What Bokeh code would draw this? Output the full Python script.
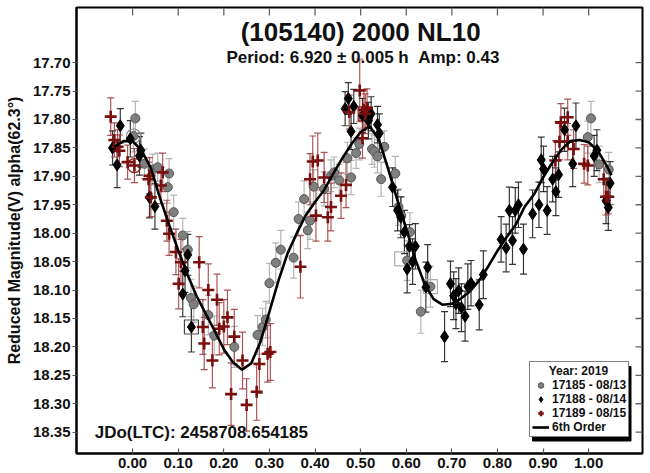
import numpy as np
from bokeh.plotting import figure
from bokeh.models import (Range1d, FixedTicker, Label, Legend, LegendItem,
                          PrintfTickFormatter)
from bokeh.embed import file_html
from bokeh.resources import INLINE

FONT = "Liberation Sans"

# ---------------- data ----------------
x_ticks = [0.0, 0.1, 0.2, 0.3, 0.4, 0.5, 0.6, 0.7, 0.8, 0.9, 1.0]
y_ticks = [17.70, 17.75, 17.80, 17.85, 17.90, 17.95, 18.00, 18.05, 18.10,
           18.15, 18.20, 18.25, 18.30, 18.35]

# 17185 - 08/13 (grey circles)
g_phase = [0.006, 0.002, 0.026, 0.044, 0.055, 0.080, 0.077, 0.090, 0.110, 0.121,
           0.128, 0.134, 0.166, 0.179, 0.223, 0.274, 0.285, 0.292, 0.300, 0.314,
           0.325, 0.353, 0.364, 0.376, 0.389, 0.384, 0.397, 0.420, 0.435, 0.442,
           0.453, 0.479, 0.471, 0.490, 0.497, 0.525, 0.530, 0.537, 0.545, 0.552,
           0.576, 0.583, 0.589, 0.608, 0.602, 0.632, 0.653, 0.998, 1.005, 1.023,
           1.044]
g_mag = [17.798, 17.829, 17.878, 17.888, 17.884, 17.895, 17.919, 17.963, 18.004, 18.029,
         18.114, 18.125, 18.144, 18.180, 18.200, 18.179, 18.165, 18.152, 18.088, 18.052,
         18.029, 18.043, 17.975, 17.940, 17.978, 17.995, 17.918, 17.922, 17.899, 17.893,
         17.907, 17.902, 17.868, 17.859, 17.843, 17.852, 17.856, 17.865, 17.905, 17.848,
         17.895, 17.954, 17.969, 17.998, 18.048, 18.138, 18.094, 17.831, 17.798, 17.879,
         17.888]
g_err = [0.030, 0.028, 0.026, 0.027, 0.025, 0.026, 0.028, 0.030, 0.030, 0.032,
         0.033, 0.032, 0.035, 0.034, 0.036, 0.034, 0.033, 0.032, 0.035, 0.035,
         0.034, 0.036, 0.030, 0.032, 0.033, 0.032, 0.030, 0.030, 0.028, 0.027,
         0.028, 0.030, 0.028, 0.027, 0.028, 0.027, 0.028, 0.029, 0.030, 0.028,
         0.030, 0.032, 0.033, 0.034, 0.035, 0.038, 0.036, 0.028, 0.030, 0.032,
         0.030]

# 17188 - 08/14 (black diamonds)
b_phase = [-0.044, -0.034, -0.027, -0.005, 0.015, 0.018, 0.037, 0.049, 0.110, 0.115,
           0.121, 0.129, 0.466, 0.473, 0.485, 0.479, 0.504, 0.517, 0.523, 0.537,
           0.541, 0.570, 0.581, 0.588, 0.596, 0.607, 0.620, 0.614, 0.602, 0.647,
           0.643, 0.684, 0.697, 0.704, 0.715, 0.709, 0.721, 0.729, 0.735, 0.742,
           0.760, 0.769, 0.808, 0.819, 0.826, 0.833, 0.839, 0.846, 0.857, 0.877,
           0.891, 0.909, 0.896, 0.901, 0.921, 0.928, 0.934, 0.947, 0.972, 0.965,
           1.012, 1.018, 1.043, 1.047, 1.038]
b_mag = [17.850, 17.880, 17.811, 17.834, 17.864, 17.854, 17.937, 17.953, 18.107, 18.066,
         18.038, 18.165, 17.781, 17.763, 17.777, 17.821, 17.793, 17.802, 17.790, 17.809,
         17.824, 17.919, 17.960, 17.972, 17.998, 18.023, 18.023, 18.050, 18.063, 18.060,
         18.095, 18.182, 18.089, 18.110, 18.101, 18.124, 18.131, 18.146, 18.094, 18.088,
         18.126, 18.073, 18.011, 18.026, 17.960, 18.013, 17.960, 17.950, 18.028, 17.966,
         17.950, 17.960, 17.871, 17.887, 17.905, 17.927, 17.897, 17.818, 17.811, 17.878,
         17.864, 17.854, 17.955, 17.912, 17.943]
b_err = [0.030, 0.040, 0.030, 0.032, 0.034, 0.030, 0.036, 0.040, 0.040, 0.038,
         0.036, 0.044, 0.030, 0.028, 0.030, 0.032, 0.030, 0.032, 0.030, 0.032,
         0.034, 0.034, 0.036, 0.036, 0.038, 0.038, 0.040, 0.040, 0.042, 0.040,
         0.044, 0.044, 0.040, 0.042, 0.040, 0.044, 0.042, 0.044, 0.040, 0.040,
         0.044, 0.042, 0.040, 0.042, 0.041, 0.042, 0.040, 0.040, 0.044, 0.042,
         0.040, 0.042, 0.040, 0.040, 0.040, 0.042, 0.040, 0.038, 0.040, 0.040,
         0.036, 0.036, 0.040, 0.038, 0.040]

# 17189 - 08/15 (dark red crosses)
r_phase = [-0.048, -0.040, -0.033, -0.029, -0.011, 0.004, 0.037, 0.035, 0.040, 0.066,
           0.062, 0.075, 0.080, 0.095, 0.101, 0.106, 0.146, 0.166, 0.185, 0.154,
           0.157, 0.175, 0.190, 0.200, 0.208, 0.223, 0.241, 0.216, 0.250, 0.272,
           0.278, 0.296, 0.302, 0.368, 0.389, 0.395, 0.406, 0.402, 0.420, 0.428,
           0.435, 0.457, 0.468, 0.475, 0.498, 0.507, 0.514, 0.510, 0.504, 0.927,
           0.936, 0.939, 0.954, 0.954, 0.967, 0.990, 0.998, 1.033, 1.038, 1.043]
r_mag = [17.795, 17.836, 17.848, 17.855, 17.875, 17.881, 17.899, 17.905, 17.937, 17.893,
         17.916, 17.978, 18.001, 18.033, 18.089, 18.051, 18.051, 18.100, 18.117, 18.165,
         18.194, 18.224, 18.168, 18.164, 18.148, 18.182, 18.224, 18.283, 18.302, 18.279,
         18.230, 18.212, 18.209, 18.059, 17.905, 17.874, 17.872, 17.969, 17.902, 17.972,
         17.954, 17.934, 17.915, 17.787, 17.749, 17.783, 17.780, 17.790, 17.833, 17.872,
         17.839, 17.805, 17.796, 17.839, 17.852, 17.878, 17.881, 17.905, 17.936, 17.936]
r_err = [0.033, 0.030, 0.030, 0.028, 0.030, 0.030, 0.032, 0.030, 0.034, 0.034,
         0.032, 0.036, 0.038, 0.040, 0.044, 0.040, 0.045, 0.046, 0.045, 0.048,
         0.046, 0.048, 0.046, 0.047, 0.048, 0.048, 0.050, 0.055, 0.046, 0.050,
         0.052, 0.050, 0.050, 0.055, 0.045, 0.045, 0.048, 0.045, 0.044, 0.042,
         0.042, 0.040, 0.040, 0.030, 0.055, 0.035, 0.034, 0.035, 0.035, 0.035,
         0.032, 0.033, 0.032, 0.032, 0.034, 0.034, 0.034, 0.032, 0.032, 0.030]

# highlighted points (open squares / open circles)
sq_phase = [0.129, 0.510, 0.653, 0.590]
sq_mag = [18.165, 17.790, 18.094, 18.045]
sq_color = ["#444444", "#8b1a1a", "#aaaaaa", "#aaaaaa"]
oc_phase = [0.002, 0.004]
oc_mag = [17.829, 17.881]
oc_color = ["#888888", "#8b1a1a"]

# 6th order Fourier fit
c_phase = [-0.04, -0.02, 0.00, 0.02, 0.04, 0.06, 0.08, 0.10, 0.12, 0.14, 0.16, 0.18,
           0.20, 0.22, 0.24, 0.26, 0.28, 0.30, 0.32, 0.34, 0.36, 0.38, 0.40, 0.42,
           0.44, 0.46, 0.48, 0.50, 0.52, 0.54, 0.56, 0.58, 0.60, 0.62, 0.64, 0.66,
           0.68, 0.70, 0.72, 0.74, 0.76, 0.78, 0.80, 0.82, 0.84, 0.86, 0.88, 0.90,
           0.92, 0.94, 0.96, 0.98, 1.00, 1.02, 1.04, 1.05]
c_mag = [17.848, 17.838, 17.838, 17.855, 17.885, 17.938, 17.985, 18.030, 18.072, 18.110,
         18.141, 18.172, 18.204, 18.227, 18.240, 18.229, 18.192, 18.138, 18.083, 18.035,
         18.000, 17.968, 17.945, 17.924, 17.895, 17.868, 17.843, 17.822, 17.812, 17.835,
         17.886, 17.940, 17.992, 18.046, 18.089, 18.116, 18.126, 18.124, 18.115, 18.102,
         18.083, 18.058, 18.031, 18.007, 17.985, 17.953, 17.932, 17.902, 17.876, 17.853,
         17.838, 17.836, 17.840, 17.855, 17.882, 17.898]

# ---------------- figure ----------------
X0, X1 = -0.123, 1.118
Y_BOT, Y_TOP = 18.3875, 17.603
FRAME_W, FRAME_H = 566, 446

p = figure(width=647, height=472, output_backend="svg", toolbar_location=None,
           x_range=Range1d(X0, X1), y_range=Range1d(Y_BOT, Y_TOP),
           min_border_left=76, min_border_right=5, min_border_top=7,
           min_border_bottom=19)
p.background_fill_color = "white"
p.border_fill_color = "white"
p.outline_line_color = "black"
p.outline_line_width = 2
p.xgrid.visible = False
p.ygrid.visible = False

def style_axis(ax, ticks, tin, tout):
    ax.ticker = FixedTicker(ticks=ticks)
    ax.formatter = PrintfTickFormatter(format="%.2f")
    ax.major_tick_in = tin
    ax.major_tick_out = tout
    ax.minor_tick_in = 0
    ax.minor_tick_out = 0
    ax.major_tick_line_color = "#555555"
    ax.major_tick_line_width = 1.2
    ax.minor_tick_line_color = None
    ax.axis_line_color = "black"
    ax.axis_line_width = 2
    ax.major_label_text_font = FONT
    ax.major_label_text_font_style = "bold"
    ax.major_label_text_font_size = "15px"
    ax.major_label_text_color = "#111111"

xa = p.xaxis[0]
style_axis(xa, x_ticks, 5, 0)
xa.major_label_standoff = 4

ya = p.yaxis[0]
style_axis(ya, y_ticks, 0, 4)
ya.major_label_standoff = 2
ya.axis_label = "Reduced Magnitude(V) alpha(62.3°)"
ya.axis_label_text_font = FONT
ya.axis_label_text_font_style = "bold"
ya.axis_label_text_font_size = "16px"
ya.axis_label_text_color = "#111111"
ya.axis_label_standoff = 7

# inward ticks on the top (8 px) and right (7 px) edges
dy_tick = 8 * (Y_BOT - Y_TOP) / FRAME_H
dx_tick = 7 * (X1 - X0) / FRAME_W
p.segment(x0=x_ticks, y0=[Y_TOP] * len(x_ticks), x1=x_ticks,
          y1=[Y_TOP + dy_tick] * len(x_ticks), line_color="#666666", line_width=1.3)
p.segment(x0=[X1] * len(y_ticks), y0=y_ticks, x1=[X1 - dx_tick] * len(y_ticks),
          y1=y_ticks, line_color="#666666", line_width=1.3)

# ---------------- error bars ----------------
def errbars(ph, mg, er, color, alpha):
    ph = np.array(ph); mg = np.array(mg); er = np.array(er)
    p.segment(ph, mg - er, ph, mg + er, line_color=color, line_width=1.2, line_alpha=alpha)
    p.scatter(ph, mg - er, marker="dash", size=7, line_color=color, line_width=1.2, line_alpha=alpha)
    p.scatter(ph, mg + er, marker="dash", size=7, line_color=color, line_width=1.2, line_alpha=alpha)

errbars(g_phase, g_mag, g_err, "#b5b5b5", 1.0)
errbars(b_phase, b_mag, b_err, "#222222", 0.9)
errbars(r_phase, r_mag, r_err, "#9c3a3a", 0.85)

# highlight markers
p.scatter(sq_phase, sq_mag, marker="square", size=14, fill_color=None,
          line_color=sq_color, line_width=1.2)
p.scatter(oc_phase, oc_mag, marker="circle", size=14, fill_color=None,
          line_color=oc_color, line_width=1.2)

# ---------------- markers ----------------
g_r = p.scatter(g_phase, g_mag, marker="circle", size=9, fill_color="#7f7f7f",
                line_color="#555555", line_width=1)
b_r = p.scatter(b_phase, b_mag, marker="diamond", size=12, fill_color="black",
                line_color="black", line_width=1)
r_r = p.scatter(r_phase, r_mag, marker="cross", size=12, line_color="#7b0e0e",
                line_width=2.6)

c_r = p.line(c_phase, c_mag, line_color="black", line_width=2.6)

# ---------------- texts ----------------
p.add_layout(Label(x=0.5, y=17.6455, text="(105140) 2000 NL10", text_font=FONT,
                   text_font_style="bold", text_font_size="26px", text_align="center",
                   text_baseline="middle", text_color="#111111"))
p.add_layout(Label(x=0.505, y=17.691, text="Period: 6.920 ± 0.005 h \u00a0Amp: 0.43",
                   text_font=FONT, text_font_style="bold", text_font_size="17px",
                   text_align="center", text_baseline="middle", text_color="#111111"))
p.add_layout(Label(x=-0.083, y=18.350, text="JDo(LTC): 2458708.654185", text_font=FONT,
                   text_font_style="bold", text_font_size="17px", text_align="left",
                   text_baseline="middle", text_color="#111111"))

# ---------------- legend (with drop shadow) ----------------
FX0, FX1, FY0, FY1 = 79.0, 645.0, 7.0, 453.0   # frame, page px
LX0, LX1, LY0, LY1 = 532.0, 630.0, 363.0, 437.0  # legend box, page px

def px2x(px):
    return X0 + (px - FX0) / (FX1 - FX0) * (X1 - X0)

def py2y(py):
    return Y_TOP + (py - FY0) / (FY1 - FY0) * (Y_BOT - Y_TOP)

p.quad(left=px2x(LX0 + 3), right=px2x(LX1 + 3.5), top=py2y(LY0 + 3),
       bottom=py2y(LY1 + 3.5), fill_color="black", line_color="black", level="annotation")

legend = Legend(items=[LegendItem(label="17185 - 08/13", renderers=[g_r]),
                       LegendItem(label="17188 - 08/14", renderers=[b_r]),
                       LegendItem(label="17189 - 08/15", renderers=[r_r]),
                       LegendItem(label="6th Order", renderers=[c_r])],
                location=(LX0 - FX0, FY1 - LY1),
                title="\u00a0\u00a0\u00a0\u00a0\u00a0Year: 2019",
                title_text_font=FONT, title_text_font_style="bold",
                title_text_font_size="12px", title_standoff=0,
                title_text_color="#111111",
                label_text_font=FONT, label_text_font_style="bold",
                label_text_font_size="12px", label_text_color="#111111",
                label_height=14, glyph_height=14, glyph_width=17, label_standoff=3,
                spacing=0, padding=2, margin=0,
                border_line_color="black", border_line_width=1.5,
                background_fill_color="white", background_fill_alpha=1.0)
p.add_layout(legend)

open("out.html", "w", encoding="utf-8").write(file_html(p, INLINE))
